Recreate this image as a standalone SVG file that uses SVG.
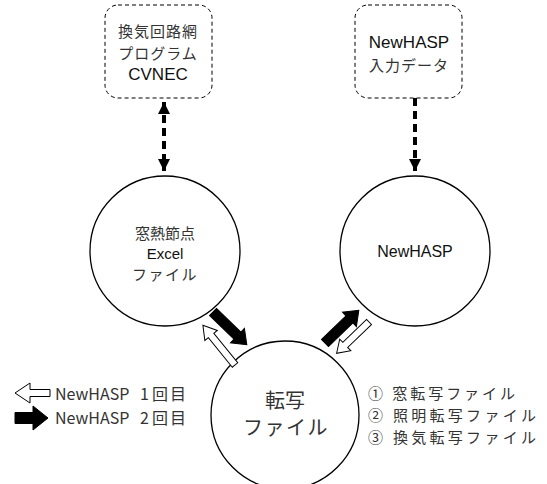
<svg xmlns="http://www.w3.org/2000/svg" width="547" height="484" viewBox="0 0 547 484">
<style>
.box{fill:#fff;stroke:#000;stroke-width:1;stroke-dasharray:4 3}
.circ{fill:#fff;stroke:#000;stroke-width:1.3}
.jp{font-family:"Noto Sans CJK JP","Liberation Sans",sans-serif;fill:#333;text-anchor:middle;dominant-baseline:central}
.lat{font-family:"Liberation Sans",Arial,sans-serif;fill:#111;text-anchor:middle;dominant-baseline:central}
.st{text-anchor:start}
.dash{stroke:#000;stroke-width:4;stroke-dasharray:8 5;fill:none}
.blk{fill:#000;stroke:#000;stroke-width:1}
.wht{fill:#fff;stroke:#000;stroke-width:1}
</style>
<defs>
<marker id="ah" viewBox="0 0 10 10" refX="10" refY="5" markerWidth="3" markerHeight="3" orient="auto-start-reverse" markerUnits="strokeWidth">
<path d="M0,0 L10,5 L0,10 z" fill="#000"/>
</marker>
</defs>
<rect width="547" height="484" fill="#fff"/>
<g id="node-cvnec">
<rect class="box" x="105" y="5" width="107" height="93" rx="13"/>
<text class="jp" x="158" y="30" font-size="15" letter-spacing="1">換気回路網</text>
<text class="jp" x="158" y="52" font-size="15" letter-spacing="1">プログラム</text>
<text class="lat" x="158" y="74" font-size="17" fill="#333">CVNEC</text>
</g>
<g id="node-input">
<rect class="box" x="355" y="5" width="107" height="93" rx="13"/>
<text class="lat" x="409" y="42" font-size="17" fill="#333">NewHASP</text>
<text class="jp" x="409" y="64" font-size="15" letter-spacing="1">入力データ</text>
</g>
<g id="node-excel">
<circle class="circ" cx="165" cy="251" r="75"/>
<text class="jp" x="165" y="232" font-size="15">窓熱節点</text>
<text class="lat" x="165" y="253" font-size="15">Excel</text>
<text class="jp" x="165" y="273" font-size="15" letter-spacing="1.5">ファイル</text>
</g>
<g id="node-newhasp">
<circle class="circ" cx="415" cy="251" r="75"/>
<text class="lat" x="415" y="251" font-size="16">NewHASP</text>
</g>
<g id="node-tensha">
<circle class="circ" cx="285" cy="415" r="74"/>
<text class="jp" x="285" y="399" font-size="20">転写</text>
<text class="jp" x="286" y="426" font-size="20" letter-spacing="1.5">ファイル</text>
</g>
<g id="connectors">
<line class="dash" x1="164" y1="102" x2="164" y2="171" marker-start="url(#ah)" marker-end="url(#ah)"/>
<line class="dash" x1="415" y1="98" x2="415" y2="171" marker-end="url(#ah)"/>
<polygon class="blk" points="0,-5 34,-5 34,-10 47,0 34,10 34,5 0,5" transform="translate(213,312) rotate(44)"/>
<polygon class="wht" points="0,-3.5 38,-3.5 38,-8 51,0 38,8 38,3.5 0,3.5" transform="translate(235,365) rotate(231)"/>
<polygon class="blk" points="0,-5 34,-5 34,-10 47,0 34,10 34,5 0,5" transform="translate(325,343) rotate(-44)"/>
<polygon class="wht" points="0,-3.5 33,-3.5 33,-8 45,0 33,8 33,3.5 0,3.5" transform="translate(369,322) rotate(136)"/>
</g>
<g id="legend">
<polygon class="wht" points="15,393 30,383 30,389.5 50,389.5 50,396.5 30,396.5 30,403"/>
<polygon class="blk" points="48,418 33,406 33,412.5 15,412.5 15,423.5 33,423.5 33,430"/>
<text class="jp st" x="55" y="393" font-size="16">NewHASP <tspan x="140">1</tspan><tspan x="152" letter-spacing="2">回目</tspan></text>
<text class="jp st" x="55" y="417" font-size="16">NewHASP <tspan x="140">2</tspan><tspan x="152" letter-spacing="2">回目</tspan></text>
</g>
<g id="files-list">
<text class="jp st" x="368" y="392" font-size="15" textLength="147" lengthAdjust="spacing">① 窓転写ファイル</text>
<text class="jp st" x="368" y="414" font-size="15" textLength="168" lengthAdjust="spacing">② 照明転写ファイル</text>
<text class="jp st" x="368" y="436" font-size="15" textLength="168" lengthAdjust="spacing">③ 換気転写ファイル</text>
</g>
</svg>
